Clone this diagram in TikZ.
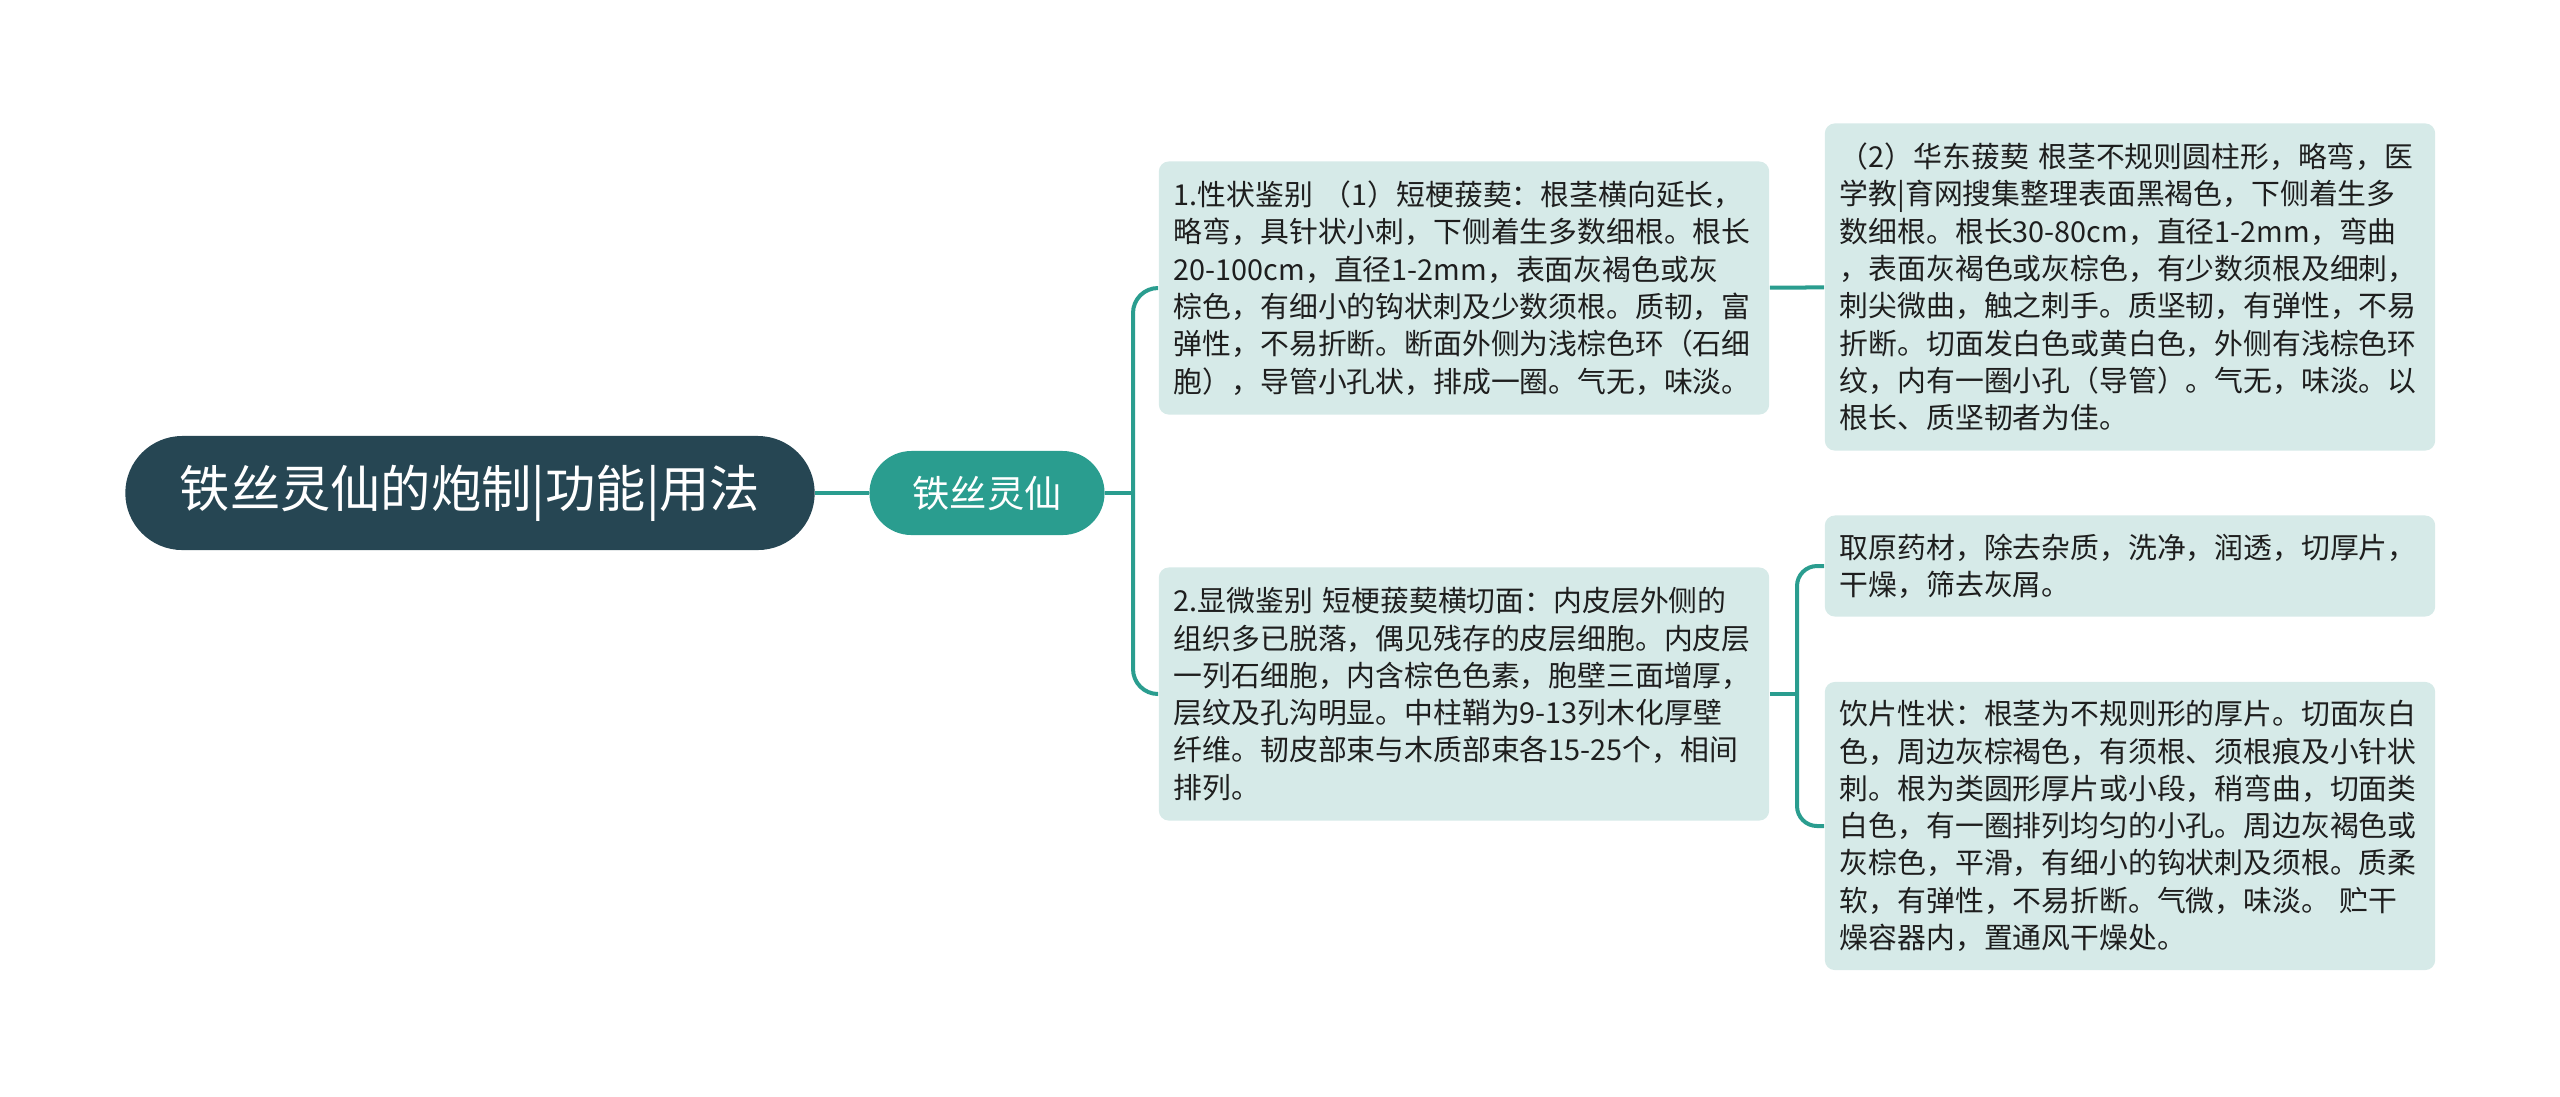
\documentclass[tikz,border=0pt]{standalone}
\usepackage{fontspec}
\newfontfamily\cjk{Noto Sans CJK SC}
\usepackage{tikz}

\begin{document}
\begin{tikzpicture}[x=0.01cm, y=-0.01cm,
        linie/.style={draw=verde marin, line width=0.04cm},
        cutie/.style={fill=verde pal, rounded corners=0.1cm, text=negru moale,
            text width=5.8cm, inner xsep=0.15cm, inner ysep=0pt, align=left,
            font=\cjk\fontsize{8.2pt}{10.6pt}\selectfont}]
        \def\raza{0.25cm}
        \definecolor{albastru inchis}{HTML}{264653}
        \definecolor{verde marin}{HTML}{2A9D8F}
        \definecolor{verde pal}{HTML}{D6EAE8}
        \definecolor{negru moale}{HTML}{1E1E1E}

        \useasboundingbox (0,0) rectangle (2560,1096);

        \node [fill=albastru inchis, rounded corners=0.57cm, minimum width=6.89cm, minimum height=1.14cm,
            text=white, font=\cjk\fontsize{14.3pt}{17pt}\selectfont] (radacina) at (470,493) {铁丝灵仙的炮制|功能|用法};
        \node [fill=verde marin, rounded corners=0.42cm, minimum width=2.35cm, minimum height=0.84cm,
            text=white, font=\cjk\fontsize{10.6pt}{12pt}\selectfont] (tulpina) at (987,493) {铁丝灵仙};

        \node [cutie, minimum height=2.53cm] (caractere) at (1464,288) {1.性状鉴别 （1）短梗菝葜：根茎横向延长，\\
            略弯，具针状小刺，下侧着生多数细根。根长\\
            20-100cm，直径1-2mm，表面灰褐色或灰\\
            棕色，有细小的钩状刺及少数须根。质韧，富\\
            弹性，不易折断。断面外侧为浅棕色环（石细\\
            胞），导管小孔状，排成一圈。气无，味淡。};
        \node [cutie, minimum height=2.53cm] (microscop) at (1464,694) {2.显微鉴别 短梗菝葜横切面：内皮层外侧的\\
            组织多已脱落，偶见残存的皮层细胞。内皮层\\
            一列石细胞，内含棕色色素，胞壁三面增厚，\\
            层纹及孔沟明显。中柱鞘为9-13列木化厚壁\\
            纤维。韧皮部束与木质部束各15-25个，相间\\
            排列。};
        \node [cutie, minimum height=3.27cm] (huadong) at (2130,287) {（2）华东菝葜 根茎不规则圆柱形，略弯，医\\
            学教|育网搜集整理表面黑褐色，下侧着生多\\
            数细根。根长30-80cm，直径1-2mm，弯曲\\
            ，表面灰褐色或灰棕色，有少数须根及细刺，\\
            刺尖微曲，触之刺手。质坚韧，有弹性，不易\\
            折断。切面发白色或黄白色，外侧有浅棕色环\\
            纹，内有一圈小孔（导管）。气无，味淡。以\\
            根长、质坚韧者为佳。};
        \node [cutie, minimum height=1.01cm] (prelucrare) at (2130,566) {取原药材，除去杂质，洗净，润透，切厚片，\\
            干燥，筛去灰屑。};
        \node [cutie, minimum height=2.88cm] (felii) at (2130,826) {饮片性状：根茎为不规则形的厚片。切面灰白\\
            色，周边灰棕褐色，有须根、须根痕及小针状\\
            刺。根为类圆形厚片或小段，稍弯曲，切面类\\
            白色，有一圈排列均匀的小孔。周边灰褐色或\\
            灰棕色，平滑，有细小的钩状刺及须根。质柔\\
            软，有弹性，不易折断。气微，味淡。 贮干\\
            燥容器内，置通风干燥处。};

        \coordinate (ramura) at (1133,493);
        \coordinate (ramura doi) at (1797,694);

        \draw [linie] (radacina) -- (tulpina);
        \draw [linie] (tulpina) -- (ramura);
        \draw [linie, rounded corners=\raza] (ramura) |- (caractere.west);
        \draw [linie, rounded corners=\raza] (ramura) |- (microscop.west);
        \draw [linie] (caractere) -- (huadong);
        \draw [linie] (microscop) -- (ramura doi);
        \draw [linie, rounded corners=0.2cm] (ramura doi) |- (prelucrare.west);
        \draw [linie, rounded corners=0.2cm] (ramura doi) |- (felii.west);
    \end{tikzpicture}
\end{document}
